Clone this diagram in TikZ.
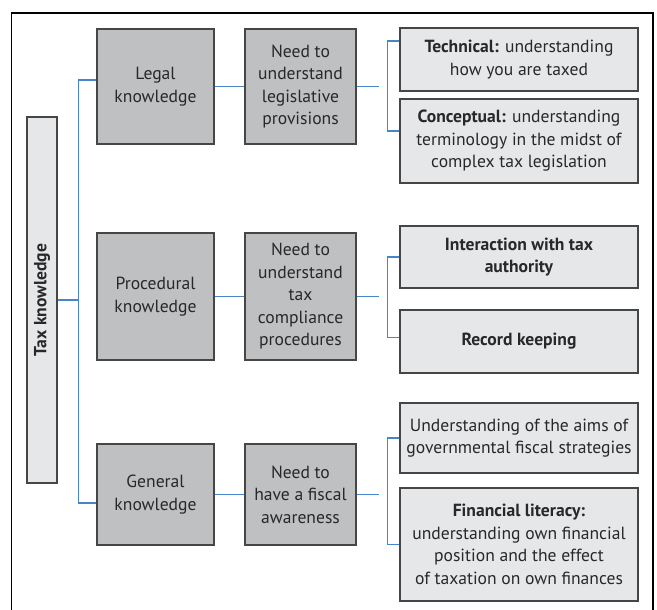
\documentclass[tikz,border=0pt]{standalone}
\usepackage{fontspec}
\setmainfont{PT Sans}

\definecolor{darkfill}{RGB}{191,192,194}
\definecolor{lightfill}{RGB}{230,231,232}
\definecolor{boxline}{RGB}{70,70,70}
\definecolor{linkblue}{RGB}{72,133,200}
\definecolor{textgray}{RGB}{40,40,40}

\tikzset{
  darkbox/.style={draw=boxline, fill=darkfill, line width=0.9pt, align=center,
    minimum width=2.925cm, text=textgray},
  needbox/.style={darkbox, minimum width=2.775cm},
  lightbox/.style={draw=boxline, fill=lightfill, line width=0.9pt, align=center,
    minimum width=5.95cm, text=textgray},
  link/.style={linkblue, line width=0.85pt},
}

\begin{document}
\begin{tikzpicture}[x=0.025cm, y=-0.025cm, font=\fontsize{12.5}{16}\selectfont]
    \useasboundingbox (0,0) rectangle (657,610);
    % Frame
    \draw[line width=1.1pt] (11.7,610) -- (11.7,13) -- (653,13) -- (653,610);

    % Root
    \node[lightbox, rotate=90, minimum width=9.15cm, minimum height=0.75cm,
      font=\fontsize{12.5}{16}\selectfont\bfseries] (tax) at (42,300) {Tax knowledge};

    % Knowledge types
    \node[darkbox, minimum height=2.875cm] (legal) at (155.5,86.5) {Legal\\knowledge};
    \node[darkbox, minimum height=3.175cm] (procedural) at (155.5,296.5) {Procedural\\knowledge};
    \node[darkbox, minimum height=2.525cm] (general) at (155.5,494.5) {General\\knowledge};

    % Needs
    \node[needbox, minimum height=2.875cm] (needlegal) at (300.5,86.5)
      {Need to\\understand\\legislative\\provisions};
    \node[needbox, minimum height=3.175cm] (needproc) at (300.5,296.5)
      {Need to\\understand\\tax\\compliance\\procedures};
    \node[needbox, minimum height=2.525cm] (needgen) at (300.5,494.5)
      {Need to\\have a fiscal\\awareness};

    % Details
    \node[lightbox, minimum height=1.575cm] (technical) at (519,59.5)
      {\textbf{Technical:} understanding\\how you are taxed};
    \node[lightbox, minimum height=2.1cm] (conceptual) at (519,141)
      {\textbf{Conceptual:} understanding\\terminology in the midst of\\complex tax legislation};
    \node[lightbox, minimum height=1.55cm] (interaction) at (519,257)
      {\textbf{Interaction with tax}\\\textbf{authority}};
    \node[lightbox, minimum height=1.575cm] (record) at (519,341.5)
      {\textbf{Record keeping}};
    \node[lightbox, minimum height=1.75cm] (aims) at (519,438)
      {Understanding of the aims of\\governmental fiscal strategies};
    \node[lightbox, minimum height=2.825cm] (literacy) at (519,544.5)
      {\textbf{Financial literacy:}\\understanding own financial\\position and the effect\\of taxation on own finances};

    % Connectors
    \draw[link] (tax.south) -- ++(21,0) coordinate (trunk);
    \draw[link] ([yshift=0.16cm]legal.west) -| (trunk) |- ([yshift=-0.21cm]general.west);
    \draw[link] (legal) -- (needlegal);
    \draw[link] (procedural) -- (needproc);
    \draw[link] (general) -- (needgen);
    \draw[link] ([yshift=0.46cm]technical.west) -| ([xshift=22]needlegal.east) |- ([yshift=0.25cm]conceptual.west);
    \draw[link] (needlegal.east) -- ++(22,0);
    \draw[link] (interaction.west) -| ([xshift=22]needproc.east) |- ([yshift=0.11cm]record.west);
    \draw[link] (needproc.east) -- ++(22,0);
    \draw[link] (aims.west) -| ([xshift=22]needgen.east) |- (literacy.west);
    \draw[link] (needgen.east) -- ++(22,0);
\end{tikzpicture}
\end{document}
